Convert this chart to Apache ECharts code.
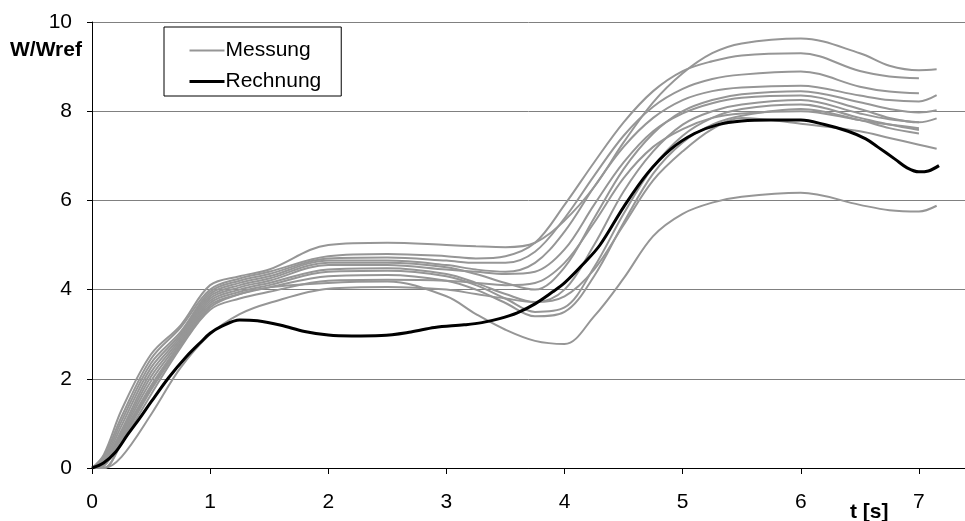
<!DOCTYPE html>
<html>
<head>
<meta charset="utf-8">
<script src="https://cdn.jsdelivr.net/npm/echarts@6/dist/echarts.min.js"></script>
<style>
    html, body { margin: 0; padding: 0; background: #fff; }
    #chart { width: 965px; height: 521px; }
</style>
</head>
<body>
<div id="chart"></div>
<script>
(function(){
    // time base shared by all measured curves [s]
    let messT = [0, 0.1, 0.25, 0.5, 0.75, 1.0, 1.25, 1.5, 2.0, 2.5, 3.0, 3.25, 3.5, 3.75, 4.0, 4.25, 4.5, 4.75, 5.0, 5.25, 5.5, 6.0, 6.5, 6.75, 7.0, 7.15];

    // Messung, W/Wref (null = curve already ended)
    let mess1  = [0, 0.3, 1.3, 2.55, 3.2, 4.1, 4.3, 4.45, 5.0, 5.05, 5.0, 4.97, 4.95, 5.05, 5.55, 6.3, 7.3, 8.2, 8.85, 9.3, 9.52, 9.63, 9.3, 9.02, 8.92, 8.94];
    let mess2  = [0, 0.25, 1.15, 2.45, 3.15, 4.0, 4.25, 4.4, 4.75, 4.8, 4.75, 4.7, 4.75, 5.05, 5.9, 6.85, 7.75, 8.45, 8.9, 9.12, 9.25, 9.3, 8.9, 8.78, 8.74, null];
    let mess3  = [0, 0.2, 1.05, 2.35, 3.05, 3.95, 4.2, 4.35, 4.7, 4.72, 4.65, 4.6, 4.6, 4.85, 5.6, 6.55, 7.45, 8.1, 8.5, 8.72, 8.82, 8.89, 8.55, 8.44, 8.4, null];
    let mess4  = [0, 0.15, 0.95, 2.25, 3.0, 3.9, 4.15, 4.3, 4.65, 4.65, 4.55, 4.45, 4.4, 4.6, 5.3, 6.3, 7.2, 7.85, 8.25, 8.45, 8.53, 8.57, 8.35, 8.25, 8.22, 8.36];
    let mess5  = [0, 0.1, 0.85, 2.15, 2.95, 3.85, 4.1, 4.25, 4.6, 4.6, 4.5, 4.35, 4.15, 4.0, 4.5, 5.6, 6.7, 7.5, 8.0, 8.25, 8.38, 8.45, 8.2, 8.05, 7.97, 8.02];
    let mess6  = [0, 0.1, 0.8, 2.05, 2.9, 3.8, 4.05, 4.2, 4.55, 4.55, 4.45, 4.4, 4.35, 4.4, 4.9, 5.9, 6.85, 7.55, 7.95, 8.18, 8.3, 8.35, 8.05, 7.85, 7.75, 7.84];
    let mess7  = [0, 0.05, 0.75, 1.95, 2.85, 3.75, 4.0, 4.15, 4.45, 4.48, 4.35, 4.15, 3.9, 3.72, 4.0, 5.0, 6.2, 7.1, 7.7, 8.0, 8.15, 8.25, 7.95, 7.82, 7.75, null];
    let mess8  = [0, 0.05, 0.7, 1.85, 2.8, 3.7, 3.95, 4.1, 4.4, 4.42, 4.3, 4.1, 3.8, 3.5, 3.6, 4.5, 5.7, 6.75, 7.45, 7.85, 8.05, 8.15, 7.85, 7.7, 7.58, null];
    let mess9  = [0, 0, 0.6, 1.75, 2.75, 3.65, 3.9, 4.05, 4.3, 4.33, 4.2, 4.0, 3.7, 3.4, 3.5, 4.3, 5.5, 6.6, 7.3, 7.7, 7.9, 8.05, 7.8, 7.62, 7.5, null];
    let mess10 = [0, 0, 0.55, 1.65, 2.7, 3.55, 3.8, 3.95, 4.2, 4.22, 4.2, 4.15, 4.1, 4.15, 4.6, 5.5, 6.5, 7.2, 7.6, 7.85, 7.95, 8.0, 7.8, 7.7, 7.62, null];
    let mess11 = [0, 0, 0.25, 1.2, 2.25, 3.0, 3.45, 3.7, 4.02, 4.06, 4.0, 3.9, 3.8, 3.72, 3.85, 4.45, 5.45, 6.45, 7.1, 7.6, 7.85, 7.72, 7.55, 7.4, 7.25, 7.16];
    let mess12 = [0, 0.05, 0.65, 1.8, 2.75, 3.6, 3.9, 4.05, 4.15, 4.18, 3.85, 3.45, 3.1, 2.85, 2.78, 3.4, 4.25, 5.2, 5.7, 5.95, 6.08, 6.17, 5.9, 5.78, 5.75, 5.88];

    // Rechnung
    let rechT = [0, 0.1, 0.2, 0.3, 0.4, 0.5, 0.65, 0.8, 0.92, 1.0, 1.1, 1.25, 1.4, 1.6, 1.8, 2.0, 2.2, 2.45, 2.7, 2.9, 3.15, 3.3, 3.45, 3.6, 3.75, 3.9, 4.0, 4.15, 4.3, 4.5, 4.7, 4.9, 5.1, 5.3, 5.5, 5.75, 6.0, 6.2, 6.4, 6.55, 6.65, 6.8, 6.9, 7.0, 7.08, 7.17];
    let rechV = [0, 0.12, 0.36, 0.74, 1.1, 1.48, 2.03, 2.5, 2.82, 3.02, 3.18, 3.32, 3.3, 3.2, 3.06, 2.98, 2.96, 2.97, 3.05, 3.15, 3.21, 3.26, 3.35, 3.48, 3.68, 3.95, 4.15, 4.55, 5.0, 5.85, 6.6, 7.15, 7.5, 7.7, 7.78, 7.8, 7.8, 7.7, 7.55, 7.38, 7.2, 6.92, 6.73, 6.64, 6.66, 6.78];

    let messAll = [mess1, mess2, mess3, mess4, mess5, mess6, mess7, mess8, mess9, mess10, mess11, mess12];

    let labelFont = 'Liberation Sans';

    let _pairs = function(ts, vs){
        let out = [];
        ts.forEach(function(t, i){
            if (vs[i] !== null) out.push([t, vs[i]]);
        });
        return out;
    };

    let series = messAll.map(function(vals){
        return {
            name: 'Messung',
            type: 'line',
            symbol: 'none',
            smooth: 0.35,
            lineStyle: { color: '#969696', width: 2 },
            itemStyle: { color: '#969696' },
            data: _pairs(messT, vals)
        };
    });
    series.push({
        name: 'Rechnung',
        type: 'line',
        symbol: 'none',
        smooth: 0.35,
        z: 5,
        lineStyle: { color: '#000000', width: 3 },
        itemStyle: { color: '#000000' },
        data: _pairs(rechT, rechV)
    });

    let opts = {
        animation: false,
        grid: { left: 92, right: 0, top: 22, bottom: 53 },
        legend: {
            orient: 'vertical',
            left: 164,
            top: 27,
            padding: [13, 20, 4, 24],
            itemGap: 10,
            itemWidth: 35,
            itemHeight: 14,
            backgroundColor: '#ffffff',
            borderColor: '#000000',
            borderWidth: 1,
            borderRadius: 0,
            textStyle: { fontFamily: labelFont, fontSize: 21, color: '#000', padding: [0, 0, 0, -4] },
            data: [
                { name: 'Messung', itemStyle: { opacity: 0 }, lineStyle: { width: 2, color: '#969696' } },
                { name: 'Rechnung', itemStyle: { opacity: 0 }, lineStyle: { width: 3, color: '#000000' } }
            ]
        },
        xAxis: [
            {
                type: 'value',
                min: 0,
                max: 7.39,
                interval: 1,
                axisLine: { show: true, onZero: false, lineStyle: { color: '#000', width: 1 } },
                axisTick: { show: true, inside: false, length: 6, lineStyle: { color: '#000' } },
                axisLabel: {
                    margin: 24,
                    fontFamily: labelFont,
                    fontSize: 21,
                    color: '#000',
                    showMaxLabel: false,
                    formatter: function(v){ return Number.isInteger(v) ? String(v) : ''; }
                },
                splitLine: { show: false }
            },
            {
                // top frame line
                type: 'value',
                position: 'top',
                min: 0,
                max: 7.39,
                axisLine: { show: true, lineStyle: { color: '#000', width: 1 } },
                axisTick: { show: false },
                axisLabel: { show: false },
                splitLine: { show: false }
            }
        ],
        yAxis: {
            type: 'value',
            min: 0,
            max: 10,
            interval: 2,
            axisLine: { show: true, lineStyle: { color: '#000', width: 1 } },
            axisTick: { show: true, inside: false, length: 5, lineStyle: { color: '#000' } },
            axisLabel: { margin: 20, fontFamily: labelFont, fontSize: 21, color: '#000' },
            splitLine: { show: true, lineStyle: { color: '#808080', width: 1 } }
        },
        graphic: [
            {
                type: 'text',
                left: 10,
                top: 40,
                style: { text: 'W/Wref', font: 'bold 21px "Liberation Sans"', fill: '#000' }
            },
            {
                type: 'text',
                left: 850,
                top: 502,
                style: { text: 't [s]', font: 'bold 21px "Liberation Sans"', fill: '#000' }
            }
        ],
        series: series
    };

    let chart = echarts.init(document.getElementById('chart'), null, { renderer: 'canvas' });
    chart.setOption(opts);
})();
</script>
</body>
</html>
